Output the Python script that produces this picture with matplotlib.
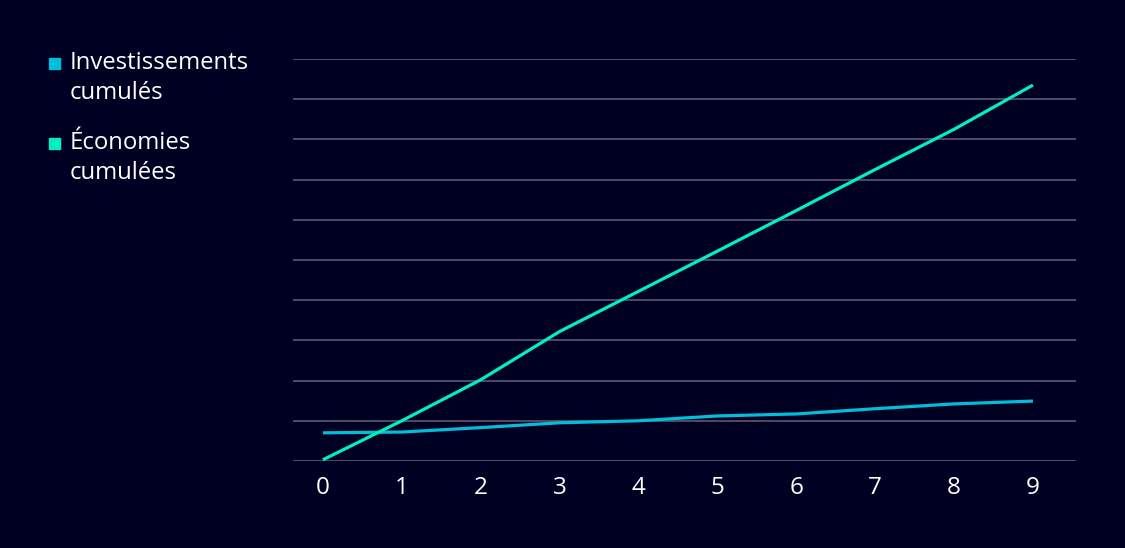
import matplotlib
matplotlib.use("Agg")
import matplotlib.pyplot as plt
from matplotlib.patches import Rectangle

plt.rcParams['font.family'] = ['Open Sans', 'DejaVu Sans']

years = [0, 1, 2, 3, 4, 5, 6, 7, 8, 9]
tick_labels = ["0", "1", "2", "3", "4", "5", "6", "7", "8", "9"]
investissements = [0.70, 0.72, 0.83, 0.95, 1.00, 1.12, 1.17, 1.30, 1.42, 1.49]
economies = [0.03, 1.00, 2.02, 3.22, 4.22, 5.22, 6.23, 7.25, 8.25, 9.35]
series_names = ["Investissements\ncumulés", "Économies\ncumulées"]

bg = "#000022"
c_inv = "#00BEDC"
c_eco = "#00F0BE"
grid_c = "#5A5A70"

fig = plt.figure(figsize=(11.25, 5.48), dpi=100, facecolor=bg)
ax = fig.add_axes([0.2604, 0.1588, 0.696, 0.7336])
ax.set_facecolor(bg)

ax.plot(years, investissements, color=c_inv, lw=2.3, solid_capstyle='butt', zorder=3)
ax.plot(years, economies, color=c_eco, lw=2.3, solid_capstyle='butt', zorder=3)

ax.set_xlim(-0.38, 9.545)
ax.set_ylim(0, 10)
ax.set_yticks(range(0, 11))
ax.yaxis.grid(True, color=grid_c, lw=1.2)
ax.set_axisbelow(True)
ax.tick_params(axis='y', left=False, labelleft=False)
ax.set_xticks(years)
ax.set_xticklabels(tick_labels, color="white", fontsize=17.5)
ax.tick_params(axis='x', length=0, pad=11)
for s in ax.spines.values():
    s.set_visible(False)

# legend
W, H = 1125, 548
entries = [(series_names[0], c_inv, 70), (series_names[1], c_eco, 150)]
for name, col, base in entries:
    fig.patches.append(Rectangle((49 / W, 1 - (base - 1) / H), 11 / W, 11 / H,
                                 transform=fig.transFigure, color=col, figure=fig))
    fig.text(70 / W, 1 - (base - 19) / H, name, color="white", fontsize=17.2,
             va="top", ha="left", linespacing=1.36)

fig.savefig("out.png", dpi=100, facecolor=bg)
